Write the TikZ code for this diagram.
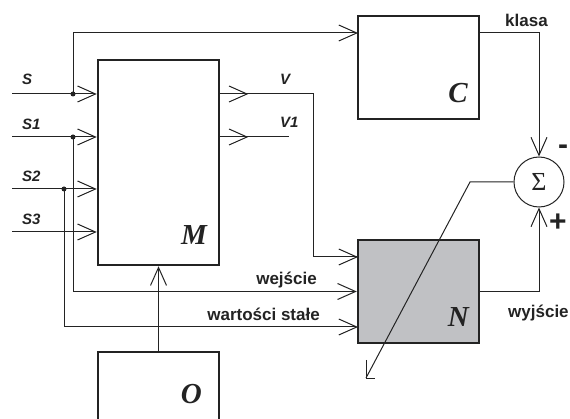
\documentclass[tikz,border=0pt]{standalone}
\usepackage{fontspec}
\setmainfont{Liberation Serif}
\newfontfamily\labfont{Liberation Sans}
\usetikzlibrary{arrows.meta,decorations.markings}
\definecolor{ngray}{RGB}{192,193,196}
\definecolor{ink}{RGB}{35,35,35}
\begin{document}
\begin{tikzpicture}[x=1pt,y=-1pt,
  wire/.style={line width=1pt, draw=ink},
  arr/.style={wire, -{Straight Barb[length=18pt,width=16pt]}},
  box/.style={draw=ink, line width=2.5pt, minimum width=121pt, minimum height=103pt, inner sep=0pt},
  big/.style={font=\fontsize{29}{30}\selectfont\bfseries\itshape, anchor=base east, inner sep=0pt, text=ink},
  siglab/.style={font=\labfont\fontsize{15}{16}\selectfont\bfseries\itshape, anchor=base west, inner sep=0pt, text=ink},
  lab/.style={font=\labfont\fontsize{17}{18}\selectfont\bfseries, inner sep=0pt, text=ink},
  jdot/.style={circle, fill=ink, inner sep=0pt, minimum size=5pt},
  midarr/.style={postaction={decorate}, decoration={markings, mark=at position 28pt with {\arrow{Straight Barb[length=18pt,width=16pt]}}}},
]
\useasboundingbox (0,0) rectangle (570,419);
\clip (0,0) rectangle (570,419);

% boxes
\node[box, minimum height=205pt] (M) at (158.5,162.5) {};
\node[box] (C) at (418.5,67.5) {};
\node[box, fill=ngray] (N) at (418.5,291.5) {};
\node[box] (O) at (158.5,403.5) {};
\node[circle, draw=ink, line width=1pt, minimum size=50pt, inner sep=0pt,
      font=\fontsize{26}{26}\selectfont, text=ink] (sum) at (539,182) {Σ};

% big letters
\node[big] at (207,245) {M};
\node[big] at (468,103) {C};
\node[big] at (469,327) {N};
\node[big] at (202,403) {O};

% input coordinates
\coordinate (inS) at (12,94);
\coordinate (inS1) at (12,137);
\coordinate (inS2) at (12,189);
\coordinate (inS3) at (12,232);
\coordinate (cIn) at (358,33);
\coordinate (cOut) at (479,33);
\coordinate (nV) at (358,257);
\coordinate (nW) at (358,327);
\coordinate (vTurn) at (313,94);
\coordinate (v1End) at (289,137);
\coordinate (dk) at (470,182);
\coordinate (dEnd) at (366,378);

% junction dots
\node[jdot] (jS) at (73,94) {};
\node[jdot] (jS1) at (73,137) {};
\node[jdot] (jS2) at (64,189) {};

% inputs to M
\draw[arr] (inS) -- (inS -| M.west);
\draw[arr] (inS1) -- (inS1 -| M.west);
\draw[arr] (inS2) -- (inS2 -| M.west);
\draw[arr] (inS3) -- (inS3 -| M.west);

% branches
\draw[arr] (jS.center) |- (cIn);
\draw[arr] (jS1.center) |- (N.west);
\draw[arr] (jS2.center) |- (nW);

% outputs of M
\draw[wire, midarr] (inS -| M.east) -- (vTurn) |- (nV);
\draw[arr] (vTurn) |- (nV);
\draw[wire, midarr] (inS1 -| M.east) -- (v1End);

% O to M
\draw[arr] (O.north) -- (M.south);

% C and N to sum
\draw[arr] (cOut) -| (sum.north);
\draw[arr] (N.east) -| (sum.south);

% diagonal adjustment arrow
\draw[wire] (sum.west) -- (dk) -- (dEnd);
\draw[wire] (dEnd) ++(0,-18) -- (dEnd) -- ++(9,0);

% signal labels
\node[siglab] at (22,85) {S};
\node[siglab] at (22,130) {S1};
\node[siglab] at (22,182) {S2};
\node[siglab] at (22,225) {S3};
\node[siglab] at (280,85) {V};
\node[siglab] at (280,128) {V1};

\node[lab, anchor=base west] at (505,27) {klasa};
\node[lab, anchor=base east] at (317,285) {wejście};
\node[lab, anchor=base east] at (320,321) {wartości stałe};
\node[lab, anchor=base west] at (508,318) {wyjście};

% signs
\node[font=\labfont\fontsize{30}{30}\selectfont\bfseries, inner sep=0pt, anchor=base, text=ink] at (563,155) {-};
\node[font=\labfont\fontsize{30}{30}\selectfont\bfseries, inner sep=0pt, anchor=base, text=ink] at (558,232) {+};
\end{tikzpicture}
\end{document}
